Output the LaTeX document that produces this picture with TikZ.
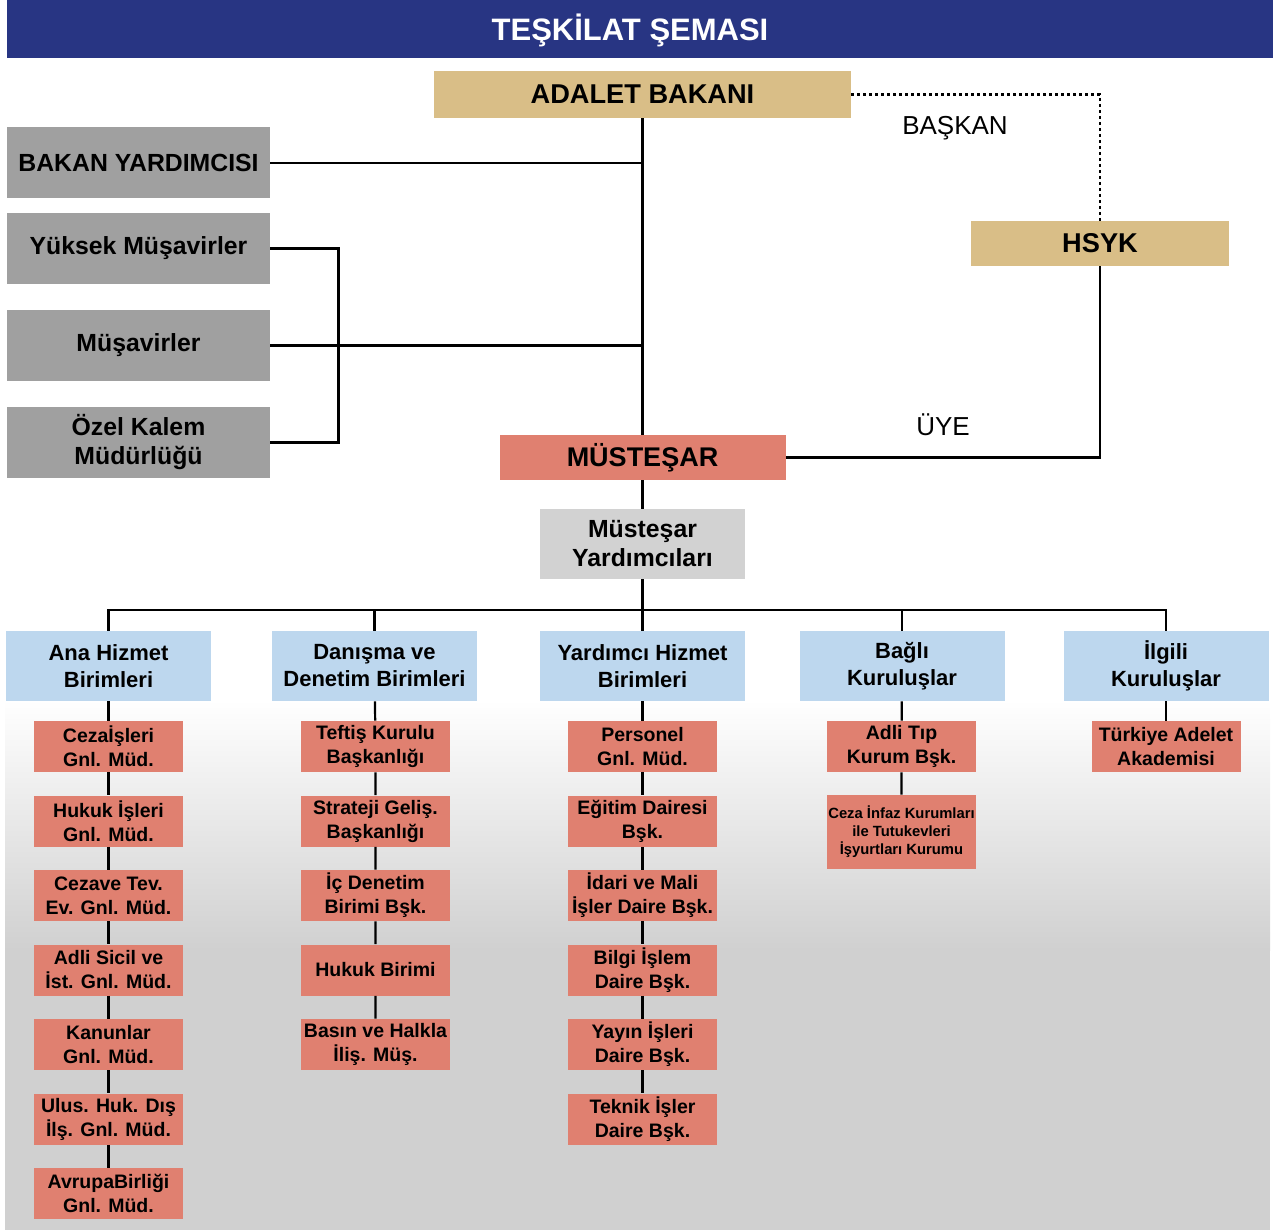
\documentclass[tikz,border=0pt]{standalone}
\usepackage{fontspec}
\setmainfont{Liberation Sans}
\definecolor{baslik}{RGB}{40,53,131}
\definecolor{bakan}{RGB}{217,190,135}
\definecolor{gri}{RGB}{160,160,160}
\definecolor{acikgri}{RGB}{210,210,210}
\definecolor{somon}{RGB}{224,128,112}
\definecolor{mavi}{RGB}{189,215,238}
\definecolor{zemin}{RGB}{208,208,208}

\begin{document}
\begin{tikzpicture}[x=0.5pt,y=-0.5pt,
        kutu/.style={inner sep=0pt,align=center,font=\bfseries\fontsize{12.4}{14.5}\selectfont},
        ustkutu/.style={kutu,fill=bakan,font=\bfseries\fontsize{13.6}{16}\selectfont},
        grikutu/.style={kutu,fill=gri,minimum width=131.5pt,minimum height=35.5pt},
        birim/.style={kutu,fill=mavi,minimum width=102.5pt,minimum height=35pt,font=\bfseries\fontsize{11}{13.5}\selectfont},
        altkutu/.style={kutu,fill=somon,minimum width=74.5pt,minimum height=25.5pt,font=\bfseries\fontsize{9.75}{12}\selectfont},
        etiket/.style={inner sep=0pt,font=\fontsize{13}{15}\selectfont},
        baglanti/.style={line width=1.1pt},]
        \useasboundingbox (0,0) rectangle (1288,1230);
        % zemin
        \shade[top color=white,bottom color=zemin] (5,700) rectangle (1270,950);
        \fill[zemin] (5,950) rectangle (1270,1230);
        \fill[baslik] (7,0) rectangle (1273,58);
        \node[inner sep=0pt,text=white,font=\bfseries\fontsize{15.5}{18}\selectfont] (baslik) at (630,30) {TEŞKİLAT ŞEMASI};
        % ust kisim
        \node[ustkutu,minimum width=208.5pt,minimum height=23.5pt] (adalet) at (642.5,94.5) {ADALET BAKANI};
        \node[ustkutu,minimum width=129pt,minimum height=22.5pt] (hsyk) at (1100,243.5) {HSYK};
        \node[grikutu] (byrd) at (138.5,163) {BAKAN YARDIMCISI};
        \node[grikutu] (yuksek) at (138.5,248.5) {Yüksek Müşavirler};
        \node[grikutu] (mus) at (138.5,345.5) {Müşavirler};
        \node[grikutu] (ozel) at (138.5,442.5) {Özel Kalem\\Müdürlüğü};
        \node[kutu,fill=somon,minimum width=143pt,minimum height=22.5pt,font=\bfseries\fontsize{13.5}{16}\selectfont] (mustesar) at (642.5,457.5) {MÜSTEŞAR};
        \node[kutu,fill=acikgri,minimum width=102.5pt,minimum height=35pt] (myrd) at (642.5,544) {Müsteşar\\Yardımcıları};
        \node[etiket] (baskan) at (955,128) {BAŞKAN};
        \node[etiket] (uye) at (943,425) {ÜYE};
        % birimler
        \node[birim] (ana) at (108.5,666) {Ana Hizmet\\Birimleri};
        \node[birim] (danisma) at (374.5,666) {Danışma ve\\Denetim Birimleri};
        \node[birim] (yardimci) at (642.5,666) {Yardımcı Hizmet\\Birimleri};
        \node[birim] (bagli) at (902,666) {Bağlı\\Kuruluşlar};
        \node[birim] (ilgili) at (1166,666) {İlgili\\Kuruluşlar};
        % ana hizmet
        \node[altkutu] (a1) at (108.5,746.5) {Cezaİşleri\\Gnl. Müd.};
        \node[altkutu] (a2) at (108.5,821) {Hukuk İşleri\\Gnl. Müd.};
        \node[altkutu] (a3) at (108.5,895.5) {Cezave Tev.\\Ev. Gnl. Müd.};
        \node[altkutu] (a4) at (108.5,970) {Adli Sicil ve\\İst. Gnl. Müd.};
        \node[altkutu] (a5) at (108.5,1044.5) {Kanunlar\\Gnl. Müd.};
        \node[altkutu] (a6) at (108.5,1119) {Ulus. Huk. Dış\\İlş. Gnl. Müd.};
        \node[altkutu] (a7) at (108.5,1193.5) {AvrupaBirliği\\Gnl. Müd.};
        % danisma
        \node[altkutu] (d1) at (375.5,746.5) {Teftiş Kurulu\\Başkanlığı};
        \node[altkutu] (d2) at (375.5,821) {Strateji Geliş.\\Başkanlığı};
        \node[altkutu] (d3) at (375.5,895.5) {İç Denetim\\Birimi Bşk.};
        \node[altkutu] (d4) at (375.5,970) {Hukuk Birimi};
        \node[altkutu] (d5) at (375.5,1044.5) {Basın ve Halkla\\İliş. Müş.};
        % yardimci
        \node[altkutu] (y1) at (642.5,746.5) {Personel\\Gnl. Müd.};
        \node[altkutu] (y2) at (642.5,821) {Eğitim Dairesi\\Bşk.};
        \node[altkutu] (y3) at (642.5,895.5) {İdari ve Mali\\İşler Daire Bşk.};
        \node[altkutu] (y4) at (642.5,970) {Bilgi İşlem\\Daire Bşk.};
        \node[altkutu] (y5) at (642.5,1044.5) {Yayın İşleri\\Daire Bşk.};
        \node[altkutu] (y6) at (642.5,1119) {Teknik İşler\\Daire Bşk.};
        % bagli ve ilgili
        \node[altkutu] (b1) at (901.5,746.5) {Adli Tıp\\Kurum Bşk.};
        \node[altkutu,minimum height=37pt,font=\bfseries\fontsize{7.4}{9}\selectfont] (b2) at (901.5,832) {Ceza İnfaz Kurumları\\ile Tutukevleri\\İşyurtları Kurumu};
        \node[altkutu] (i1) at (1166,746.5) {Türkiye Adelet\\Akademisi};
        % baglantilar
        \draw[baglanti] (adalet) -- (mustesar);
        \draw[baglanti] (byrd.east) -- (byrd.east -| adalet.south);
        \draw[baglanti] (mus.east) -- (mus.east -| adalet.south);
        \draw[baglanti] (yuksek.east) -- ++(68,0) |- (ozel.east);
        \draw[line width=1.1pt,dash pattern=on 1.5pt off 1.5pt] (adalet.east) -| (hsyk.north);
        \draw[baglanti] (mustesar.east) -| (hsyk.south);
        \draw[baglanti] (mustesar) -- (myrd);
        \coordinate (bus) at (642.5,610);
        \draw[baglanti] (myrd) -- (yardimci);
        \draw[baglanti] (ana.north) |- (bus) -| (ilgili.north);
        \draw[baglanti] (danisma.north) -- (danisma.north |- bus);
        \draw[baglanti] (bagli.north) -- (bagli.north |- bus);
        \draw[baglanti] (ana) -- (a1) -- (a2) -- (a3) -- (a4) -- (a5) -- (a6) -- (a7);
        \draw[baglanti] (danisma) -- (d1) -- (d2) -- (d3) -- (d4) -- (d5);
        \draw[baglanti] (yardimci) -- (y1) -- (y2) -- (y3) -- (y4) -- (y5) -- (y6);
        \draw[baglanti] (bagli) -- (b1) -- (b2);
        \draw[baglanti] (ilgili) -- (i1);
    \end{tikzpicture}
\end{document}
